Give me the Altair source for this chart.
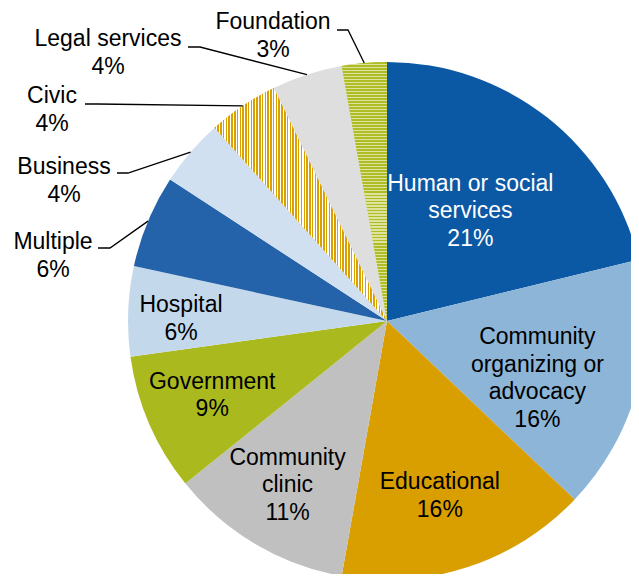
import altair as alt
import pandas as pd
import numpy as np

# ---------------- data ----------------
categories = ["Human or social services", "Community organizing or advocacy", "Educational",
              "Community clinic", "Government", "Hospital", "Multiple", "Business",
              "Civic", "Legal services", "Foundation"]
values = [21.2, 15.9, 15.7, 11.4, 8.6, 5.6, 5.8, 4.2, 4.4, 4.4, 2.8]
label_names = ["Human or social\nservices", "Community\norganizing or\nadvocacy", "Educational",
               "Community\nclinic", "Government", "Hospital", "Multiple", "Business",
               "Civic", "Legal services", "Foundation"]
colors = ["#0B58A4", "#8CB5D7", "#D99E00", "#C0C0C0", "#AAB91E", "#C4D8EB",
          "#2463A9", "#D0E0F0", "#E6BE4A", "#DEDEDE", "#C5D05E"]
text_colors = ["white"] + ["black"] * 10

# ---------------- layout (pixels relative to pie centre, y up) ----------------
R = 259
LH = 27.5
inside = {  # name: (label radius, angle shift in degrees)
    "Human or social services": (138, -1.0),
    "Community organizing or advocacy": (161, 6.0),
    "Educational": (183, 1.4),
    "Community clinic": (192, 0.6),
    "Government": (190, 0.3),
    "Hospital": (206, -1.6),
}
outside = {  # name: (text dx, text dy, stub x0, stub x1, stub y)
    "Multiple": (-334, 65, -289, -277, 73),
    "Business": (-323, 140, -270, -259, 148),
    "Civic": (-335, 211, -302, -290, 217),
    "Legal services": (-279, 268, -199, -187, 274),
    "Foundation": (-114, 285, -50, -39, 291),
}

df = pd.DataFrame({"name": categories, "value": values, "lname": label_names,
                   "tcolor": text_colors})
total = df["value"].sum()
cum = df["value"].cumsum()
df["t1"] = cum / total * 2 * np.pi
df["t0"] = (cum - df["value"]) / total * 2 * np.pi
df["mid"] = (df["t0"] + df["t1"]) / 2
df["label"] = df["lname"] + "\n" + df["value"].round().astype(int).astype(str) + "%"

lx, ly = [], []
for _, r in df.iterrows():
    nlines = r["label"].count("\n") + 1
    if r["name"] in inside:
        rad, sh = inside[r["name"]]
        a = r["mid"] + np.deg2rad(sh)
        x, y = rad * np.sin(a), rad * np.cos(a)
    else:
        o = outside[r["name"]]
        x, y = o[0], o[1]
    lx.append(x)
    ly.append(y + (nlines - 1) * LH / 2)
df["lx"] = lx
df["ly"] = ly

lines = []
for _, r in df.iterrows():
    if r["name"] in outside:
        o = outside[r["name"]]
        lines.append({"name": r["name"], "seq": 0, "x": o[2], "y": o[4]})
        lines.append({"name": r["name"], "seq": 1, "x": o[3], "y": o[4]})
        lines.append({"name": r["name"], "seq": 2, "x": R * np.sin(r["mid"]), "y": R * np.cos(r["mid"])})
ldf = pd.DataFrame(lines)

W, H = 623, 566
CX, CY = 379, 313
xs = alt.Scale(domain=[-CX, W - CX], nice=False, zero=False)
ys = alt.Scale(domain=[-(H - CY), CY], nice=False, zero=False)


def stripes(c1, c2, n, frac, horizontal):
    stops = []
    for i in range(n):
        a = i / n
        b = (i + frac) / n
        e = (i + 1) / n
        stops += [{"offset": a, "color": c1}, {"offset": b, "color": c1},
                  {"offset": b, "color": c2}, {"offset": e, "color": c2}]
    g = {"gradient": "linear", "stops": stops, "x1": 0, "y1": 0, "x2": 1, "y2": 0}
    if horizontal:
        g.update({"x2": 0, "y2": 1})
    return g


base = alt.Chart(df)
pos = dict(x=alt.X(datum=0, type="quantitative", scale=xs, axis=None),
           y=alt.Y(datum=0, type="quantitative", scale=ys, axis=None))

arcs = base.mark_arc(radius=R).encode(
    theta=alt.Theta("t0:Q", scale=None), theta2="t1:Q",
    fill=alt.Fill("name:N", scale=alt.Scale(domain=categories, range=colors), legend=None),
    **pos)

civic = base.transform_filter(alt.datum.name == "Civic").mark_arc(
    radius=R, fill=stripes("#D9A000", "#FFFFFF", 62, 0.55, False)).encode(
    theta=alt.Theta("t0:Q", scale=None), theta2="t1:Q", **pos)

found = base.transform_filter(alt.datum.name == "Foundation").mark_arc(
    radius=R, fill=stripes("#AEBD26", "#DDE39C", 86, 0.6, True)).encode(
    theta=alt.Theta("t0:Q", scale=None), theta2="t1:Q", **pos)

leaders = alt.Chart(ldf).mark_line(color="black", strokeWidth=1.3).encode(
    x=alt.X("x:Q", scale=xs, axis=None), y=alt.Y("y:Q", scale=ys, axis=None),
    detail="name:N", order="seq:O")

texts = base.mark_text(font="Liberation Sans", fontSize=23, lineHeight=LH,
                       lineBreak="\n", align="center", baseline="middle").encode(
    x=alt.X("lx:Q", scale=xs, axis=None), y=alt.Y("ly:Q", scale=ys, axis=None),
    text="label:N", color=alt.Color("tcolor:N", scale=None))

chart = alt.layer(arcs, civic, found, leaders, texts).properties(
    width=W, height=H, padding=0,
    autosize=alt.AutoSizeParams(type="none"),
).configure_view(stroke=None)

chart.save("out.html", embed_options={"renderer": "svg", "actions": False})
